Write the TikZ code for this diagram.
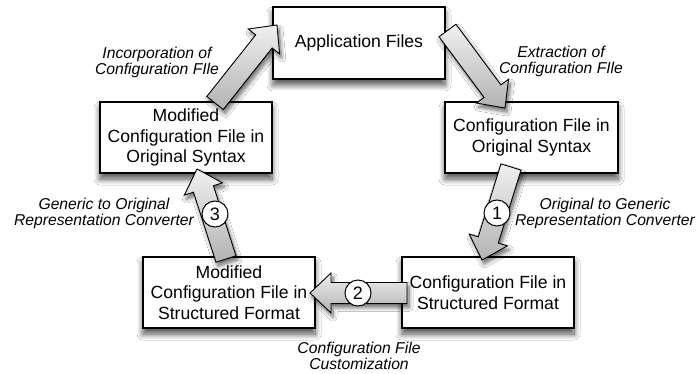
\documentclass[tikz,border=0pt]{standalone}
\usepackage{fontspec}
\setmainfont{Liberation Sans}
\usetikzlibrary{calc,shadows.blur}
\tikzset{
  boxnode/.style={draw=black, line width=1.2pt, fill=white, align=center,
    font=\fontsize{17.6}{20.5}\selectfont, inner sep=0pt,
    blur shadow={shadow xshift=0pt, shadow yshift=-6pt, shadow blur radius=6pt, shadow blur steps=10, shadow opacity=70}},
  blockarrowstyle/.style={draw=black, line width=0.9pt, top color=black!6, bottom color=black!30,
    blur shadow={shadow xshift=2pt, shadow yshift=-4pt, shadow blur radius=4pt, shadow blur steps=8, shadow opacity=60}},
  numcircle/.style={circle, draw=black, line width=1pt, fill=white, minimum size=26pt, inner sep=0pt,
    font=\fontsize{18}{18}\selectfont},
  lbl/.style={align=center, font=\fontsize{15.7}{16}\selectfont\itshape},
}
\newcommand\blkarrow[2]{%
  \coordinate (bH) at ($(#2)!21pt!(#1)$);
  \path[blockarrowstyle] ($(#1)!10.5pt!90:(#2)$) -- ($(bH)!10.5pt!90:(#2)$) -- ($(bH)!20pt!90:(#2)$) -- (#2)
    -- ($(bH)!20pt!-90:(#2)$) -- ($(bH)!10.5pt!-90:(#2)$) -- ($(#1)!10.5pt!-90:(#2)$) -- cycle;
}
\begin{document}
\begin{tikzpicture}[x=1pt,y=-1pt]
\fill[white] (0,0) rectangle (698,374);
\useasboundingbox (0,0) rectangle (698,374);

\node[boxnode, minimum width=172pt, minimum height=72pt] (app) at (359,43) {Application Files};
\node[boxnode, minimum width=173pt, minimum height=71pt] (co) at (531.5,137.5) {Configuration File in\\Original Syntax};
\node[boxnode, minimum width=172pt, minimum height=71pt] (mo) at (186,137.5) {Modified\\Configuration File in\\Original Syntax};
\node[boxnode, minimum width=172pt, minimum height=71pt] (ms) at (229,292.5) {Modified\\Configuration File in\\Structured Format};
\node[boxnode, minimum width=172pt, minimum height=71pt] (cs) at (488,292.5) {Configuration File in\\Structured Format};

% arrow end points
\coordinate (aS) at (447.5,30.5);  \coordinate (aE) at (505,108);
\coordinate (bS) at (511,167);     \coordinate (bE) at (482,260);
\coordinate (cS) at (407,293);     \coordinate (cE) at (310,293);
\coordinate (dS) at (226,259);     \coordinate (dE) at (197,169);
\coordinate (eS) at (215,103);     \coordinate (eE) at (277,25);

\blkarrow{aS}{aE}
\blkarrow{bS}{bE}
\blkarrow{cS}{cE}
\blkarrow{dS}{dE}
\blkarrow{eS}{eE}

\node[numcircle] (n1) at (497,213) {1};
\node[numcircle] (n2) at (358,293) {2};
\node[numcircle] (n3) at (215,214) {3};

\node[lbl] (l1) at (157,62) {Incorporation of\\Configuration FIle};
\node[lbl] (l2) at (561,61) {Extraction of\\Configuration FIle};
\node[lbl] (l3) at (605,213) {Original to Generic\\Representation Converter};
\node[lbl] (l4) at (104,213) {Generic to Original\\Representation Converter};
\node[lbl] (l5) at (359,356) {Configuration File\\Customization};
\end{tikzpicture}
\end{document}
